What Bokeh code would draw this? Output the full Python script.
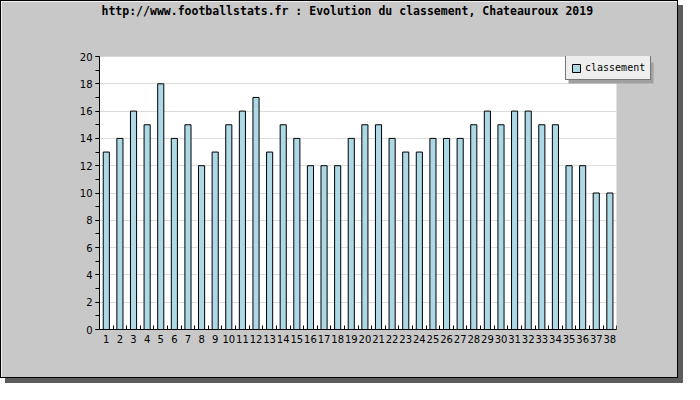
from bokeh.plotting import figure
from bokeh.models import (SingleIntervalTicker, FixedTicker, Legend, LegendItem,
                          ColumnDataSource, BoxAnnotation, Title)
from bokeh.embed import file_html
from bokeh.resources import INLINE

title_text = "http://www.footballstats.fr : Evolution du classement, Chateauroux 2019"
series_name = "classement"
journees = list(range(1, 39))
classement = [13, 14, 16, 15, 18, 14, 15, 12, 13, 15, 16, 17, 13, 15, 14, 12, 12, 12, 14, 15,
              15, 14, 13, 13, 14, 14, 14, 15, 16, 15, 16, 16, 15, 15, 12, 12, 10, 10]

n = len(journees)
extra = 3  # blank slots to the right where the legend sits over the grey border
grey = "#c8c8c8"

src = ColumnDataSource(dict(x=journees, y=classement))

p = figure(width=678, height=378, output_backend="svg", toolbar_location=None,
           x_range=(0.5, n + 0.5 + extra), y_range=(0, 20),
           min_border_left=98, min_border_right=22, min_border_top=55, min_border_bottom=50)
p.styles = {"border": "1px solid black", "box-shadow": "5px 5px 0px #5c5c5c"}
p.border_fill_color = grey
p.background_fill_color = grey
p.outline_line_color = grey
p.outline_line_width = 2

# white plotting area (only over the matchdays), drawn beneath the grid
white_area = BoxAnnotation(right=n + 0.5, fill_color="white", fill_alpha=1, line_color=None,
                           level="underlay")
p.center = [white_area] + list(p.center)

# spacer between title and frame
p.add_layout(Title(text=" ", text_font_size="10px", standoff=26), "above")

p.title.text = title_text
p.title.align = "left"
p.title.offset = 2
p.title.standoff = 0
p.title.text_font = "DejaVu Sans Mono"
p.title.text_font_size = "11.5px"
p.title.text_font_style = "bold"
p.title.text_color = "black"

r = p.vbar(x="x", top="y", width=0.45, source=src, fill_color="#add8e6", line_color="black", line_width=1)

# y axis
p.yaxis.ticker = SingleIntervalTicker(interval=2, num_minor_ticks=2)
p.yaxis.axis_line_color = "black"
p.yaxis.major_tick_in = 0
p.yaxis.major_tick_out = 4
p.yaxis.minor_tick_in = 0
p.yaxis.minor_tick_out = 4
p.yaxis.major_tick_line_color = "black"
p.yaxis.minor_tick_line_color = "black"
p.yaxis.major_label_text_font = "DejaVu Sans"
p.yaxis.major_label_text_font_size = "10px"
p.yaxis.major_label_text_color = "black"
p.yaxis.major_label_standoff = 3

# x axis
p.xaxis.ticker = FixedTicker(ticks=journees, minor_ticks=[j + 0.5 for j in journees])
p.xaxis.bounds = (0.5, n + 0.5)
p.xaxis.axis_line_color = "black"
p.xaxis.major_tick_in = 0
p.xaxis.major_tick_out = 0
p.xaxis.minor_tick_in = 4
p.xaxis.minor_tick_out = 0
p.xaxis.minor_tick_line_color = "black"
p.xaxis.major_label_text_font = "DejaVu Sans"
p.xaxis.major_label_text_font_size = "10px"
p.xaxis.major_label_text_color = "black"
p.xaxis.major_label_standoff = 5

p.xgrid.grid_line_color = None
p.ygrid.grid_line_color = "#dcdcdc"
p.ygrid.ticker = SingleIntervalTicker(interval=2)

# grey cover for grid lines beyond the last matchday
p.add_layout(BoxAnnotation(left=n + 0.5, fill_color=grey, fill_alpha=1, line_color=None))

# legend shadow
lx, ly, lw, lh = 466, 249, 85, 21
p.add_layout(BoxAnnotation(left=lx + 3, right=lx + lw + 3, bottom=ly - 3, top=ly + lh - 3,
                           left_units="screen", right_units="screen",
                           bottom_units="screen", top_units="screen",
                           fill_color="#a0a0a0", fill_alpha=1, line_color=None))

legend = Legend(items=[LegendItem(label=series_name, renderers=[r])],
                location=(lx, ly), orientation="vertical")
legend.background_fill_color = "#eeeeee"
legend.background_fill_alpha = 1
legend.border_line_color = "black"
legend.label_text_font = "DejaVu Sans Mono"
legend.label_text_font_size = "10px"
legend.label_text_color = "black"
legend.glyph_width = 10
legend.glyph_height = 10
legend.label_standoff = 4
legend.padding = 5
legend.margin = 0
legend.label_height = 13
p.add_layout(legend, "center")

open("out.html", "w").write(file_html(p, INLINE))
